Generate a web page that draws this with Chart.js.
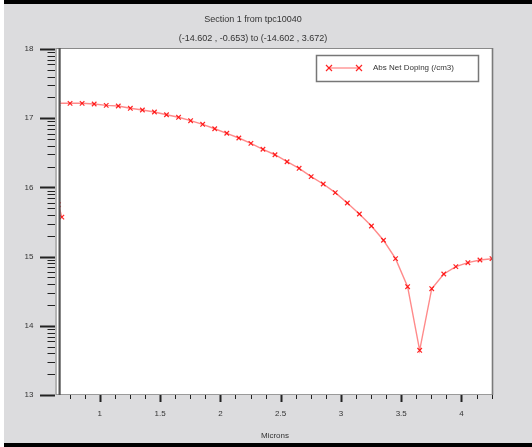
<!DOCTYPE html>
<html><head><meta charset="utf-8">
<script src="https://cdn.jsdelivr.net/npm/chart.js@4"></script>
<style>html,body{margin:0;padding:0;background:#fff;overflow:hidden}#wrap{width:532px;height:447px}</style>
</head><body><div id="wrap"><canvas id="c" width="532" height="447"></canvas></div>
<script>
const titleLines = ["Section 1 from tpc10040", "(-14.602 , -0.653) to (-14.602 , 3.672)"];
const seriesLabel = "Abs Net Doping (/cm3)";
const xAxisTitle = "Microns";
const positionsMicrons = [0.685, 0.657, 0.653, 0.753, 0.853, 0.953, 1.053, 1.153, 1.253, 1.353, 1.453, 1.553, 1.653, 1.753, 1.853, 1.953, 2.053, 2.153, 2.253, 2.353, 2.453, 2.553, 2.653, 2.753, 2.853, 2.953, 3.053, 3.153, 3.253, 3.353, 3.453, 3.553, 3.653, 3.753, 3.853, 3.953, 4.053, 4.153, 4.253];
const logDoping = [15.57, 15.75, 17.215, 17.215, 17.215, 17.205, 17.186, 17.176, 17.143, 17.118, 17.09, 17.05, 17.013, 16.964, 16.912, 16.848, 16.782, 16.714, 16.637, 16.551, 16.472, 16.371, 16.276, 16.155, 16.049, 15.924, 15.775, 15.616, 15.442, 15.236, 14.97, 14.565, 13.646, 14.536, 14.749, 14.855, 14.912, 14.951, 14.97];
const yTickValues = [13, 14, 15, 16, 17, 18];
const xTickValues = [1, 1.5, 2, 2.5, 3, 3.5, 4];
const xMin = 0.653, xMax = 4.253, yMin = 13, yMax = 18;

const FONT = '"Liberation Sans", Arial, sans-serif';
const TXT = '#333333';

const points = positionsMicrons.map((x, i) => ({x: x, y: logDoping[i]}));

const bgPlugin = {
  id: 'bg',
  beforeDraw(chart) {
    const ctx = chart.ctx, a = chart.chartArea;
    ctx.save();
    ctx.fillStyle = '#ffffff';
    ctx.fillRect(0, 0, 532, 447);
    ctx.fillStyle = '#dcdcde';
    ctx.fillRect(4, 4, 528, 439);
    ctx.fillStyle = '#000000';
    ctx.fillRect(4, 0, 528, 4);
    ctx.fillRect(4, 443, 528, 4);
    ctx.fillStyle = '#ffffff';
    ctx.fillRect(a.left, a.top, a.right - a.left, a.bottom - a.top);
    ctx.restore();
  }
};

const framePlugin = {
  id: 'frame',
  afterDatasetsDraw(chart) {
    const ctx = chart.ctx, a = chart.chartArea;
    const xs = chart.scales.x, ys = chart.scales.y;
    ctx.save();
    ctx.fillStyle = '#ffffff';
    ctx.fillRect(a.left - 3, a.top, 4, a.bottom - a.top);
    ctx.strokeStyle = '#8a8a8a';
    ctx.lineWidth = 1;
    ctx.beginPath(); ctx.moveTo(a.left - 2, a.top - 0.5); ctx.lineTo(a.right, a.top - 0.5); ctx.stroke();
    ctx.lineWidth = 1.6;
    ctx.strokeStyle = '#7a7a7a';
    ctx.beginPath(); ctx.moveTo(a.right + 0.5, a.top - 1); ctx.lineTo(a.right + 0.5, a.bottom); ctx.stroke();
    ctx.lineWidth = 1;
    ctx.strokeStyle = '#9a9a9a';
    ctx.beginPath(); ctx.moveTo(a.left - 2, a.bottom - 0.5); ctx.lineTo(a.right, a.bottom - 0.5); ctx.stroke();
    ctx.strokeStyle = '#8c8c8c';
    ctx.lineWidth = 1.3;
    ctx.beginPath(); ctx.moveTo(a.left - 2, a.top - 1); ctx.lineTo(a.left - 2, a.bottom); ctx.stroke();
    ctx.strokeStyle = '#555555';
    ctx.lineWidth = 2.2;
    ctx.beginPath(); ctx.moveTo(a.left + 1.6, a.top - 1); ctx.lineTo(a.left + 1.6, a.bottom); ctx.stroke();
    ctx.strokeStyle = '#222222';
    yTickValues.forEach((v, idx) => {
      const py = Math.round(ys.getPixelForValue(v)) + 0.5;
      ctx.lineWidth = 2;
      ctx.beginPath(); ctx.moveTo(40, py); ctx.lineTo(a.left - 3, py); ctx.stroke();
      if (idx < yTickValues.length - 1) {
        ctx.lineWidth = 1;
        for (let k = 2; k <= 9; k++) {
          const my = Math.round(ys.getPixelForValue(v + Math.log10(k))) + 0.5;
          ctx.beginPath(); ctx.moveTo(47.5, my); ctx.lineTo(a.left - 3, my); ctx.stroke();
        }
      }
    });
    xTickValues.forEach(v => {
      const px = Math.round(xs.getPixelForValue(v)) + 0.5;
      ctx.lineWidth = 2;
      ctx.beginPath(); ctx.moveTo(px, a.bottom); ctx.lineTo(px, a.bottom + 7); ctx.stroke();
    });
    ctx.lineWidth = 1;
    for (let m = 0.75; m <= xMax + 1e-6; m += 0.125) {
      if (Math.abs(m * 2 - Math.round(m * 2)) < 1e-6) continue;
      const px = Math.round(xs.getPixelForValue(m)) + 0.5;
      ctx.beginPath(); ctx.moveTo(px, a.bottom); ctx.lineTo(px, a.bottom + 4); ctx.stroke();
    }
    ctx.restore();
  }
};

function drawCross(ctx, x, y, r) {
  ctx.beginPath();
  ctx.moveTo(x - r, y - r); ctx.lineTo(x + r, y + r);
  ctx.moveTo(x - r, y + r); ctx.lineTo(x + r, y - r);
  ctx.stroke();
}

const textPlugin = {
  id: 'texts',
  afterDraw(chart) {
    const ctx = chart.ctx;
    ctx.save();
    ctx.fillStyle = TXT;
    ctx.font = '9px ' + FONT;
    ctx.textAlign = 'center';
    ctx.textBaseline = 'middle';
    ctx.fillText(titleLines[0], 253, 20);
    ctx.fillText(titleLines[1], 253, 39);
    ctx.fillStyle = '#ffffff';
    ctx.fillRect(316, 55, 163, 27);
    ctx.strokeStyle = '#777777';
    ctx.lineWidth = 1.5;
    ctx.strokeRect(316.5, 55.5, 162, 26);
    ctx.strokeStyle = 'rgba(255,60,60,0.6)';
    ctx.lineWidth = 1.3;
    ctx.beginPath(); ctx.moveTo(328, 68); ctx.lineTo(360, 68); ctx.stroke();
    ctx.strokeStyle = 'rgba(255,0,0,0.85)';
    ctx.lineWidth = 1.2;
    drawCross(ctx, 329, 68, 3);
    drawCross(ctx, 359, 68, 3);
    ctx.fillStyle = TXT;
    ctx.font = '8px ' + FONT;
    ctx.textAlign = 'left';
    ctx.fillText(chart.data.datasets[0].label, 373, 68);
    ctx.restore();
  }
};

new Chart(document.getElementById('c'), {
  type: 'line',
  data: {
    datasets: [{
      label: seriesLabel,
      data: points,
      borderColor: 'rgba(255,60,60,0.6)',
      borderWidth: 1.4,
      pointStyle: 'crossRot',
      pointRadius: 3.2,
      pointBorderWidth: 1.2,
      pointBorderColor: 'rgba(255,0,0,0.85)',
      pointBackgroundColor: '#ff0000',
      tension: 0,
      fill: false
    }]
  },
  options: {
    responsive: false,
    animation: false,
    devicePixelRatio: 1,
    layout: {padding: {top: 49, right: 40, left: 0, bottom: 0}},
    plugins: {legend: {display: false}, title: {display: false}, tooltip: {enabled: false}},
    scales: {
      x: {
        type: 'linear', min: xMin, max: xMax,
        grid: {display: false, drawTicks: false},
        border: {display: false},
        afterBuildTicks: s => { s.ticks = xTickValues.map(v => ({value: v})); },
        afterFit: s => { s.height = 52; },
        ticks: {color: TXT, font: {family: FONT, size: 8}, padding: 14, autoSkip: false, maxRotation: 0,
          callback: v => String(v)},
        title: {display: true, text: xAxisTitle, color: TXT, font: {family: FONT, size: 8}, padding: {top: 0, bottom: 6}}
      },
      y: {
        type: 'linear', min: yMin, max: yMax,
        grid: {display: false, drawTicks: false},
        border: {display: false},
        afterBuildTicks: s => { s.ticks = yTickValues.map(v => ({value: v})); },
        afterFit: s => { s.width = 58; },
        ticks: {color: TXT, font: {family: FONT, size: 8}, padding: 24.5, callback: v => String(v)}
      }
    }
  },
  plugins: [bgPlugin, framePlugin, textPlugin]
});
</script>
</body></html>
